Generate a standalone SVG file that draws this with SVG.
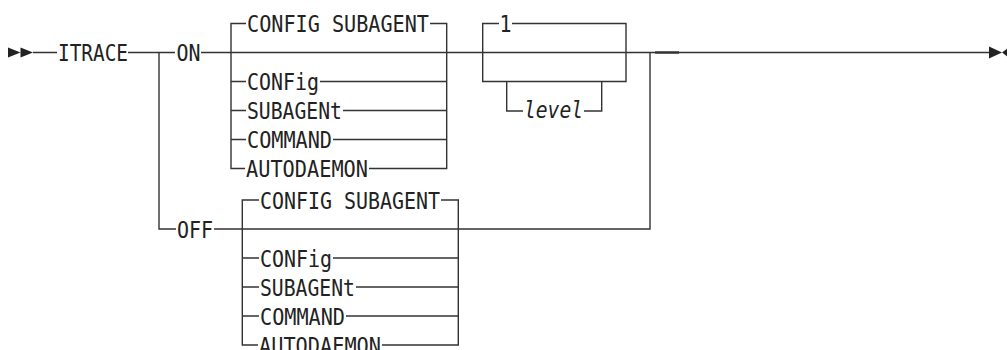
<svg xmlns="http://www.w3.org/2000/svg" width="1007" height="350" viewBox="0 0 1007 350">
<style>
.ln{fill:none;stroke:#333;stroke-width:1.4}
.t{font-family:"DejaVu Sans Mono","Liberation Mono",monospace;font-size:23.5px;fill:#222}
.it{font-style:italic}
.ar{fill:#222}
</style>
<rect width="1007" height="350" fill="#fff"/>
<g id="connectors">
  <polygon class="ar" points="8,47.5 20.5,52.5 8,57.5"/>
  <polygon class="ar" points="20.5,47.5 33,52.5 20.5,57.5"/>
  <path class="ln" d="M33 52.5H57 M128 52.5H175 M159 52.5V229H176"/>
  <path class="ln" d="M201 52.5H990"/>
  <path class="ln" d="M655 52.5H679" style="stroke-width:2.4"/>
  <!-- ON group -->
  <path class="ln" d="M246 23.5H231V168.5H245 M430 23.5H446.7V168.5H369"/>
  <path class="ln" d="M231 81.5H246 M320 81.5H446.7"/>
  <path class="ln" d="M231 110.5H246 M343 110.5H446.7"/>
  <path class="ln" d="M231 139.5H246 M333 139.5H446.7"/>
  <!-- OFF line -->
  <path class="ln" d="M214 229H650V52.5"/>
  <!-- OFF group -->
  <path class="ln" d="M259 200H242.3V345H258 M441 200H458.3V345H382"/>
  <path class="ln" d="M242.3 258H259 M333 258H458.3"/>
  <path class="ln" d="M242.3 287H259 M356 287H458.3"/>
  <path class="ln" d="M242.3 316H259 M346 316H458.3"/>
  <!-- repeat box -->
  <path class="ln" d="M499 23.5H482.7V81.5H626V23.5H512"/>
  <path class="ln" d="M506.7 81.5V111H523 M584 111H601.7V81.5"/>
  <!-- end -->
  <polygon class="ar" points="989,46.5 1002,52.5 989,58.5"/>
  <polygon class="ar" points="1008,48 1002,52.5 1008,57"/>
</g>
<g id="n-itrace"><text class="t" x="58" y="61" textLength="70" lengthAdjust="spacingAndGlyphs">ITRACE</text></g>
<g id="n-on"><text class="t" x="176.5" y="61" textLength="24" lengthAdjust="spacingAndGlyphs">ON</text></g>
<g id="n-off"><text class="t" x="177" y="237.5" textLength="36" lengthAdjust="spacingAndGlyphs">OFF</text></g>
<g id="n-on-configsub"><text class="t" x="247" y="32" textLength="182" lengthAdjust="spacingAndGlyphs">CONFIG SUBAGENT</text></g>
<g id="n-on-config"><text class="t" x="247" y="90" textLength="72" lengthAdjust="spacingAndGlyphs">CONFig</text></g>
<g id="n-on-subagent"><text class="t" x="247" y="119" textLength="95" lengthAdjust="spacingAndGlyphs">SUBAGENt</text></g>
<g id="n-on-command"><text class="t" x="247" y="148" textLength="85" lengthAdjust="spacingAndGlyphs">COMMAND</text></g>
<g id="n-on-autodaemon"><text class="t" x="246" y="177" textLength="122" lengthAdjust="spacingAndGlyphs">AUTODAEMON</text></g>
<g id="n-off-configsub"><text class="t" x="260" y="208.5" textLength="180" lengthAdjust="spacingAndGlyphs">CONFIG SUBAGENT</text></g>
<g id="n-off-config"><text class="t" x="260" y="266.5" textLength="72" lengthAdjust="spacingAndGlyphs">CONFig</text></g>
<g id="n-off-subagent"><text class="t" x="260" y="295.5" textLength="95" lengthAdjust="spacingAndGlyphs">SUBAGENt</text></g>
<g id="n-off-command"><text class="t" x="260" y="324.5" textLength="85" lengthAdjust="spacingAndGlyphs">COMMAND</text></g>
<g id="n-off-autodaemon"><text class="t" x="259" y="353.5" textLength="122" lengthAdjust="spacingAndGlyphs">AUTODAEMON</text></g>
<g id="n-default-1"><text class="t" x="499.5" y="32" textLength="12" lengthAdjust="spacingAndGlyphs">1</text></g>
<g id="n-level"><text class="t it" x="524" y="117.5" textLength="59" lengthAdjust="spacingAndGlyphs">level</text></g>
</svg>
